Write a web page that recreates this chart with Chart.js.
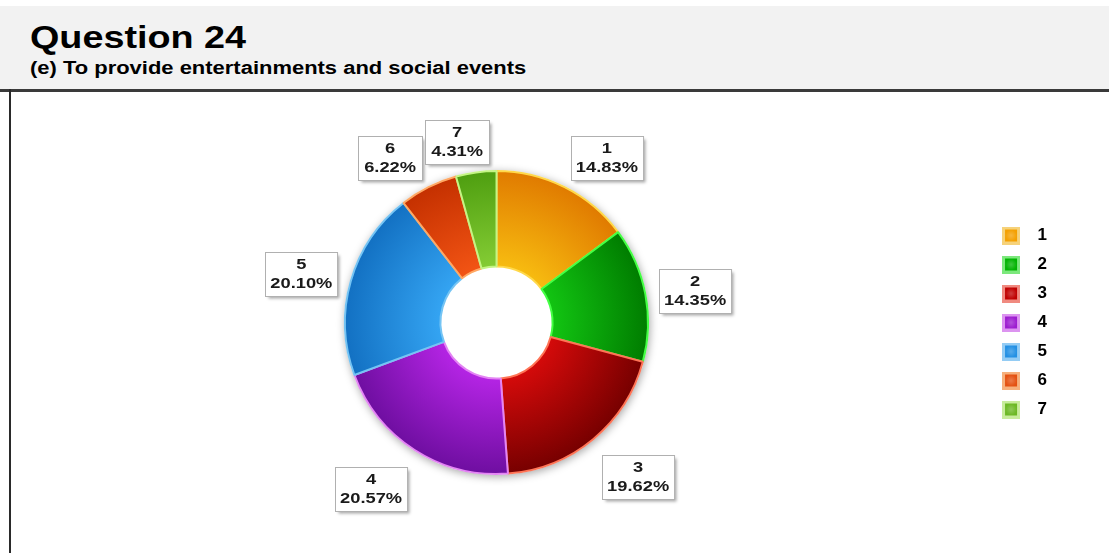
<!DOCTYPE html>
<html>
<head>
<meta charset="utf-8">
<script src="https://cdn.jsdelivr.net/npm/chart.js@4.4.1/dist/chart.umd.min.js"></script>
<style>
  html, body { margin: 0; padding: 0; background: #fff; }
  body { width: 1109px; height: 553px; position: relative; overflow: hidden; font-family: "Liberation Sans", Arial, sans-serif; }
  #header { position: absolute; left: 0; top: 6px; width: 1109px; height: 83px; background: #f2f2f2; border-bottom: 3px solid #3a3a3a; }
  #title { position: absolute; left: 30px; top: 13px; font-size: 32px; font-weight: bold; color: #000; transform: scaleX(1.18); transform-origin: left; white-space: nowrap; }
  #subtitle { position: absolute; left: 30px; top: 52px; font-size: 18px; font-weight: bold; color: #000; transform: scaleX(1.22); transform-origin: left; white-space: nowrap; }
  #chartBox { position: absolute; left: 12px; top: 92px; width: 1097px; height: 461px; }
  #leftRule { position: absolute; left: 9px; top: 89px; width: 2px; height: 464px; background: #2a2a2a; z-index: 5; }
</style>
</head>
<body>
<div id="header">
  <div id="title">Question 24</div>
  <div id="subtitle">(e) To provide entertainments and social events</div>
</div>
<div id="leftRule"></div>
<div id="chartBox"><canvas id="chart"></canvas></div>
<script>
// données
const categories = ['1', '2', '3', '4', '5', '6', '7'];
const percents = [14.83, 14.35, 19.62, 20.57, 20.10, 6.22, 4.31];

// couleurs : intérieur clair, extérieur foncé, bordure claire
const innerColors = ['#f7bb10', '#12c412', '#d40a0a', '#b424e4', '#34a4f2', '#f25414', '#84cc34'];
const outerColors = ['#e07a00', '#007c00', '#760000', '#6e0ea0', '#1270c2', '#c43000', '#4e9e10'];
const borderColors = ['#ffd84a', '#44ff44', '#ff7456', '#e484f4', '#74c4f4', '#ffa864', '#c4f484'];
const legendFill = ['#f4a000', '#00b400', '#c00000', '#9c1cd0', '#2290e4', '#e45010', '#6cb824'];
const legendEdge = ['#f6d27a', '#7ce87c', '#f08a80', '#dc94f0', '#94ccf4', '#f6b07c', '#c8ec9c'];

const textScale = 1.22;

function radialFill(ctx) {
  const chart = ctx.chart;
  const area = chart.chartArea;
  const i = ctx.dataIndex;
  if (!area) return legendFill[i];
  const cx = (area.left + area.right) / 2;
  const cy = (area.top + area.bottom) / 2;
  const r = Math.min(area.width, area.height) / 2;
  const g = chart.ctx.createRadialGradient(cx, cy, r * 0.37, cx, cy, r);
  g.addColorStop(0, innerColors[i]);
  g.addColorStop(1, outerColors[i]);
  return g;
}

// petits carrés de légende
function legendSwatch(i) {
  const cv = document.createElement('canvas');
  cv.width = 18;
  cv.height = 18;
  const c = cv.getContext('2d');
  c.fillStyle = legendEdge[i];
  c.fillRect(0, 0, 18, 18);
  c.fillStyle = legendFill[i];
  c.fillRect(3, 3, 12, 12);
  const g = c.createRadialGradient(9, 9, 0, 9, 9, 6);
  g.addColorStop(0, 'rgba(255,255,255,0.25)');
  g.addColorStop(1, 'rgba(255,255,255,0)');
  c.fillStyle = g;
  c.fillRect(3, 3, 12, 12);
  return cv;
}
const swatches = categories.map((_, i) => legendSwatch(i));

// ombre autour de l'anneau
const ringShadow = {
  id: 'ringShadow',
  beforeDatasetsDraw(chart) {
    const arc = chart.getDatasetMeta(0).data[0];
    if (!arc) return;
    const { x, y, outerRadius } = arc.getProps(['x', 'y', 'outerRadius'], true);
    const c = chart.ctx;
    c.save();
    c.shadowColor = 'rgba(0,0,0,0.35)';
    c.shadowBlur = 8;
    c.shadowOffsetX = 1;
    c.shadowOffsetY = 2;
    c.fillStyle = '#fff';
    c.beginPath();
    c.arc(x, y, outerRadius + 1, 0, Math.PI * 2);
    c.fill();
    c.restore();
  }
};

// étiquettes encadrées "n / xx.xx%"
const boxLabels = {
  id: 'boxLabels',
  afterDatasetsDraw(chart) {
    const c = chart.ctx;
    const meta = chart.getDatasetMeta(0);
    let prev = null;
    meta.data.forEach((arc, i) => {
      const p = arc.getProps(['x', 'y', 'startAngle', 'endAngle', 'outerRadius'], true);
      const mid = (p.startAngle + p.endAngle) / 2;
      const cs = Math.cos(mid), sn = Math.sin(mid);
      const ar = p.outerRadius + 14;
      const l1 = categories[i];
      const l2 = percents[i].toFixed(2) + '%';
      c.save();
      c.font = 'bold 15px "Liberation Sans", Arial, sans-serif';
      const tw = Math.max(c.measureText(l1).width, c.measureText(l2).width) * textScale;
      const bw = Math.max(tw + 10, 64);
      const bh = 44;
      // le coin le plus proche de l'anneau touche le point d'ancrage
      let lx = p.x + cs * ar + Math.sign(cs) * bw / 2;
      const ly = p.y + sn * ar + Math.max(-1, Math.min(1, sn * 1.3)) * bh / 2 + 5;
      // éviter le chevauchement avec l'étiquette précédente
      if (prev && Math.abs(ly - prev.y) < bh && Math.abs(lx - prev.x) < (bw + prev.w) / 2 + 3) {
        lx = prev.x + (bw + prev.w) / 2 + 3;
      }
      prev = { x: lx, y: ly, w: bw };
      const bx = Math.round(lx - bw / 2) + 0.5;
      const by = Math.round(ly - bh / 2) + 0.5;
      c.shadowColor = 'rgba(0,0,0,0.35)';
      c.shadowBlur = 3;
      c.shadowOffsetX = 2;
      c.shadowOffsetY = 2;
      c.fillStyle = '#fff';
      c.fillRect(bx, by, bw, bh);
      c.shadowColor = 'transparent';
      c.strokeStyle = '#b0b0b0';
      c.lineWidth = 1;
      c.strokeRect(bx, by, bw, bh);
      c.fillStyle = '#1a1a1a';
      c.textAlign = 'center';
      c.textBaseline = 'middle';
      c.translate(lx, ly);
      c.scale(textScale, 1);
      c.fillText(l1, 0, -9);
      c.fillText(l2, 0, 10);
      c.restore();
    });
  }
};

new Chart(document.getElementById('chart'), {
  type: 'doughnut',
  data: {
    labels: categories,
    datasets: [{
      data: percents,
      backgroundColor: radialFill,
      borderColor: borderColors,
      borderWidth: 2,
      hoverOffset: 0
    }]
  },
  options: {
    responsive: true,
    maintainAspectRatio: false,
    animation: false,
    cutout: '37%',
    layout: { padding: { top: 78, bottom: 78, left: 0, right: 52 } },
    plugins: {
      tooltip: { enabled: false },
      legend: {
        position: 'right',
        labels: {
          usePointStyle: true,
          pointStyleWidth: 36,
          boxHeight: 17,
          padding: 12,
          color: '#111',
          font: { family: '"Liberation Sans", Arial, sans-serif', size: 17, weight: 'bold' },
          generateLabels() {
            return categories.map((name, i) => ({
              text: name,
              pointStyle: swatches[i],
              fillStyle: legendFill[i],
              strokeStyle: legendEdge[i],
              lineWidth: 0,
              hidden: false,
              index: i
            }));
          }
        }
      }
    }
  },
  plugins: [ringShadow, boxLabels]
});
</script>
</body>
</html>
